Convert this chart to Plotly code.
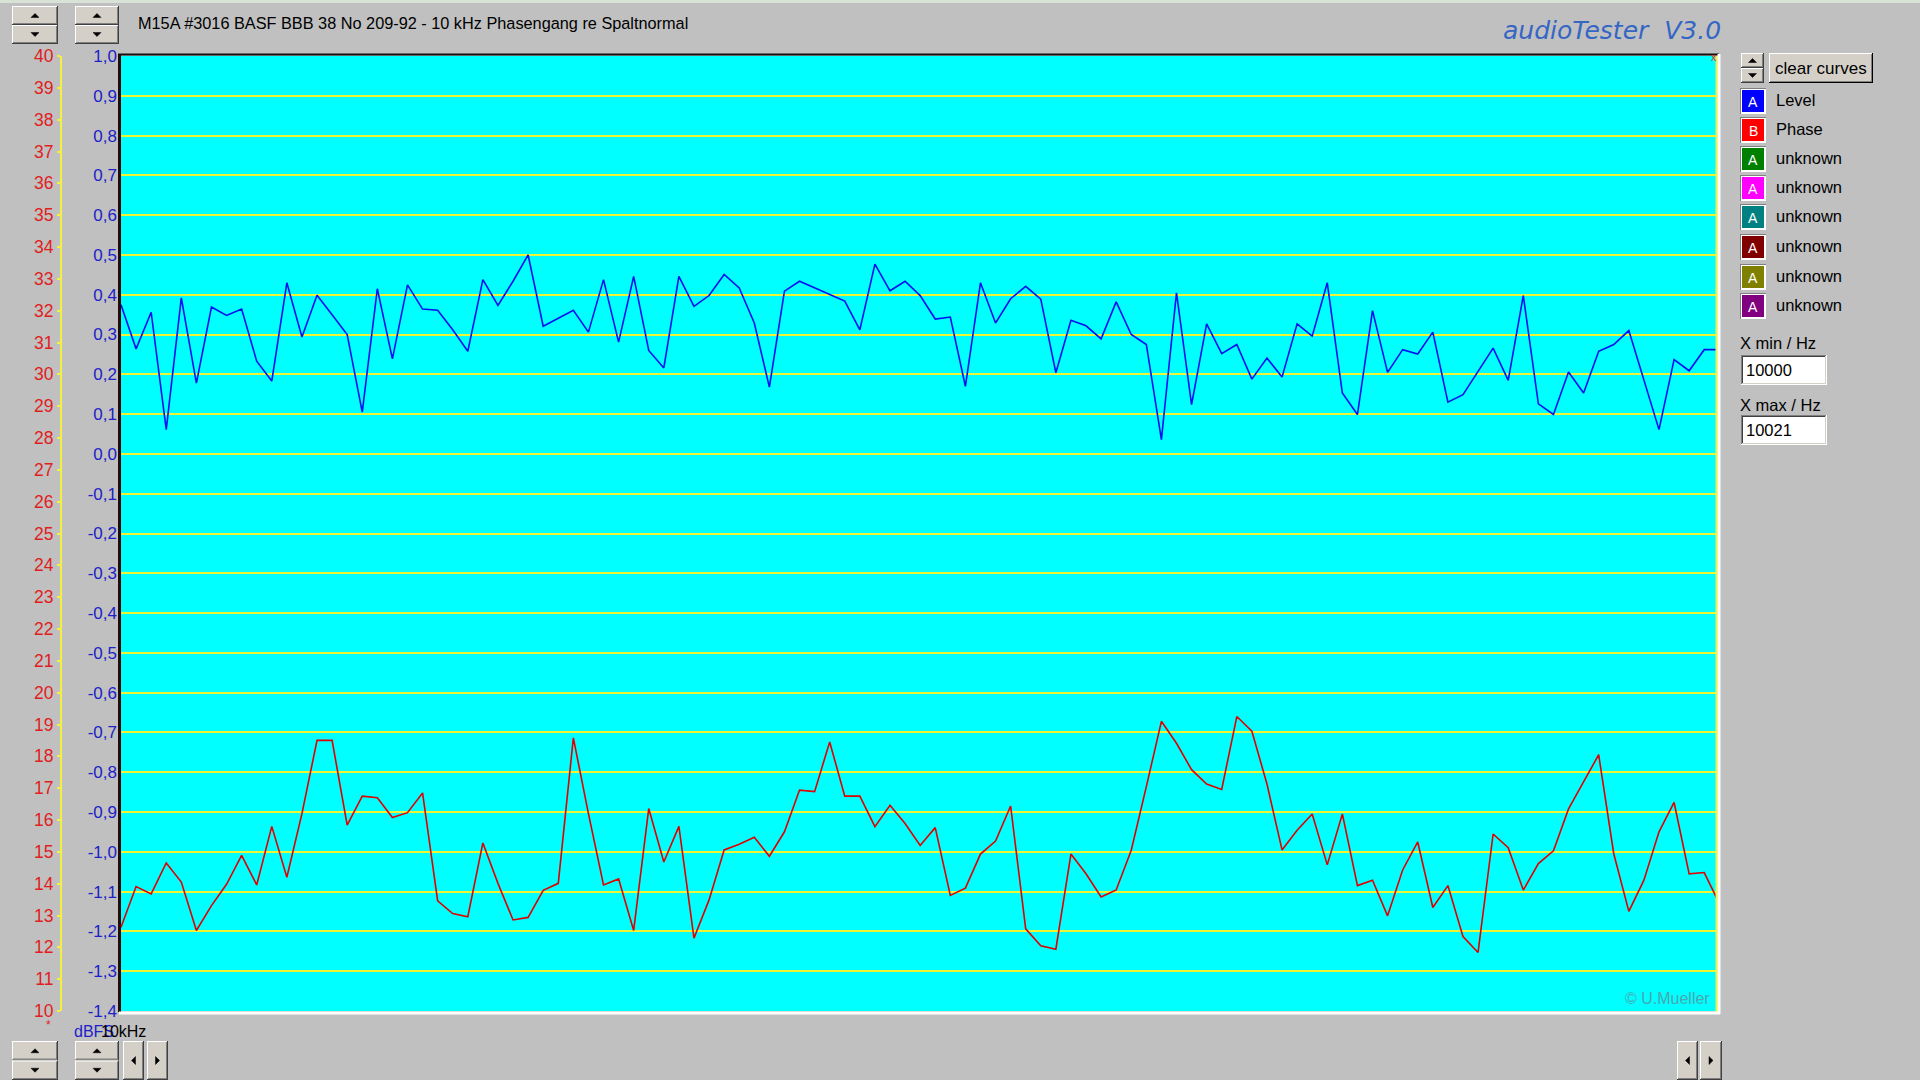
import plotly.graph_objects as go

W, H = 1920, 1080

# ---------------- data ----------------
freq_start_hz = 10000.0
freq_step_hz = 0.1984
x_min_hz = 10000
x_max_hz = 10021

level_dbfs = [
    0.375, 0.264, 0.356, 0.061, 0.392, 0.178, 0.369, 0.348, 0.364, 0.233,
    0.183, 0.430, 0.294, 0.399, 0.350, 0.300, 0.105, 0.415, 0.239, 0.425,
    0.364, 0.361, 0.312, 0.258, 0.438, 0.373, 0.434, 0.500, 0.321, 0.342,
    0.361, 0.306, 0.438, 0.281, 0.446, 0.260, 0.216, 0.446, 0.371, 0.398,
    0.451, 0.417, 0.329, 0.168, 0.409, 0.434, 0.417, 0.399, 0.384, 0.312,
    0.477, 0.410, 0.434, 0.398, 0.339, 0.344, 0.170, 0.430, 0.329, 0.390,
    0.421, 0.389, 0.204, 0.336, 0.322, 0.289, 0.382, 0.300, 0.275, 0.036,
    0.405, 0.124, 0.327, 0.252, 0.275, 0.188, 0.241, 0.193, 0.327, 0.296,
    0.430, 0.153, 0.099, 0.360, 0.205, 0.262, 0.251, 0.306, 0.130, 0.149,
    0.208, 0.266, 0.185, 0.398, 0.126, 0.099, 0.206, 0.153, 0.258, 0.275,
    0.310, 0.187, 0.061, 0.237, 0.209, 0.262, 0.262,
]

phase_deg = [
    12.63, 13.91, 13.68, 14.65, 14.05, 12.53, 13.31, 13.98, 14.89, 13.96,
    15.80, 14.20, 16.20, 18.50, 18.50, 15.84, 16.75, 16.70, 16.08, 16.23,
    16.85, 13.46, 13.06, 12.96, 15.28, 14.01, 12.86, 12.94, 13.79, 14.01,
    18.58, 16.20, 13.96, 14.15, 12.53, 16.36, 14.68, 15.80, 12.29, 13.49,
    15.06, 15.24, 15.46, 14.86, 15.63, 16.94, 16.89, 18.45, 16.75, 16.75,
    15.79, 16.46, 15.89, 15.20, 15.76, 13.63, 13.86, 14.93, 15.34, 16.44,
    12.58, 12.05, 11.94, 14.93, 14.31, 13.58, 13.80, 15.05, 17.05, 19.10,
    18.41, 17.58, 17.13, 16.96, 19.25, 18.79, 17.13, 15.06, 15.68, 16.19,
    14.59, 16.19, 13.94, 14.11, 12.99, 14.43, 15.31, 13.25, 13.94, 12.34,
    11.84, 15.56, 15.13, 13.80, 14.63, 15.03, 16.35, 17.18, 18.05, 14.94,
    13.13, 14.11, 15.63, 16.55, 14.31, 14.35, 13.38,
]

level_ticks = [1.0, 0.9, 0.8, 0.7, 0.6, 0.5, 0.4, 0.3, 0.2, 0.1, 0.0,
               -0.1, -0.2, -0.3, -0.4, -0.5, -0.6, -0.7, -0.8, -0.9,
               -1.0, -1.1, -1.2, -1.3, -1.4]
level_tick_text = [f"{v:.1f}".replace(".", ",") for v in level_ticks]
phase_ticks = list(range(10, 41))

legend_letters = ["A", "B", "A", "A", "A", "A", "A", "A"]
legend_labels = ["Level", "Phase", "unknown", "unknown", "unknown",
                 "unknown", "unknown", "unknown"]
legend_colors = ["#0000FF", "#FF0000", "#008000", "#FF00FF", "#008080",
                 "#800000", "#808000", "#800080"]

title_text = "M15A #3016 BASF BBB 38 No 209-92 - 10 kHz Phasengang re Spaltnormal"

freqs = [freq_start_hz + i * freq_step_hz for i in range(len(level_dbfs))]

# ---------------- helpers (pixel -> paper) ----------------
FACE = "#D4D0C8"
BG = "#C0C0C0"
FONT = "Liberation Sans, Arial, sans-serif"
shapes = []
annotations = []


def X(x):
    return x / W


def Y(y):
    return 1 - y / H


def rect(x0, y0, x1, y1, fill, line_color=None, lw=0):
    shapes.append(dict(type="rect", xref="paper", yref="paper",
                       x0=X(x0), x1=X(x1), y0=Y(y1), y1=Y(y0),
                       fillcolor=fill,
                       line=dict(width=lw, color=line_color or fill),
                       layer="above"))


def hline(x0, x1, y, color, w=1):
    shapes.append(dict(type="line", xref="paper", yref="paper",
                       x0=X(x0), x1=X(x1), y0=Y(y), y1=Y(y),
                       line=dict(color=color, width=w), layer="above"))


def vline(x, y0, y1, color, w=1):
    shapes.append(dict(type="line", xref="paper", yref="paper",
                       x0=X(x), x1=X(x), y0=Y(y0), y1=Y(y1),
                       line=dict(color=color, width=w), layer="above"))


def poly(pts, color):
    d = "M " + " L ".join(f"{X(px):.6f},{Y(py):.6f}" for px, py in pts) + " Z"
    shapes.append(dict(type="path", xref="paper", yref="paper", path=d,
                       fillcolor=color, line=dict(color=color, width=0.5),
                       layer="above"))


def raised(x0, y0, x1, y1):
    rect(x0, y0, x1, y1, FACE)
    hline(x0, x1, y0 + 0.5, "#FFFFFF")
    vline(x0 + 0.5, y0, y1, "#FFFFFF")
    hline(x0, x1, y1 - 0.5, "#404040")
    vline(x1 - 0.5, y0, y1, "#404040")
    hline(x0 + 1, x1 - 1, y1 - 1.5, "#808080")
    vline(x1 - 1.5, y0 + 1, y1 - 1, "#808080")


def sunken(x0, y0, x1, y1):
    rect(x0, y0, x1, y1, "#FFFFFF")
    hline(x0, x1, y0 + 0.5, "#808080")
    vline(x0 + 0.5, y0, y1, "#808080")
    hline(x0 + 1, x1 - 1, y0 + 1.5, "#404040")
    vline(x0 + 1.5, y0 + 1, y1 - 1, "#404040")
    hline(x0, x1, y1 - 0.5, "#FFFFFF")
    vline(x1 - 0.5, y0, y1, "#FFFFFF")
    hline(x0 + 1, x1 - 1, y1 - 1.5, FACE)
    vline(x1 - 1.5, y0 + 1, y1 - 1, FACE)


def spin(x0, y0, x1, y1):
    ym = (y0 + y1) / 2
    raised(x0, y0, x1, ym)
    raised(x0, ym, x1, y1)
    cx = (x0 + x1) / 2
    cu = (y0 + ym) / 2
    cd = (ym + y1) / 2
    poly([(cx - 4, cu + 2), (cx + 4, cu + 2), (cx, cu - 2)], "#000000")
    poly([(cx - 4, cd - 2), (cx + 4, cd - 2), (cx, cd + 2)], "#000000")


def arrow_btn(x0, y0, x1, y1, direction):
    raised(x0, y0, x1, y1)
    cx = (x0 + x1) / 2
    cy = (y0 + y1) / 2
    if direction == "left":
        poly([(cx + 2, cy - 4), (cx + 2, cy + 4), (cx - 2, cy)], "#000000")
    else:
        poly([(cx - 2, cy - 4), (cx - 2, cy + 4), (cx + 2, cy)], "#000000")


def text(x, y, s, size=16, color="#000000", xanchor="left", family=FONT):
    annotations.append(dict(xref="paper", yref="paper", x=X(x), y=Y(y),
                            text=s, showarrow=False, xanchor=xanchor,
                            yanchor="middle",
                            font=dict(family=family, size=size, color=color)))


# ---------------- figure ----------------
fig = go.Figure()
fig.add_trace(go.Scatter(x=freqs, y=level_dbfs, mode="lines", name="Level",
                         line=dict(color="#0010F0", width=1.6), yaxis="y"))
fig.add_trace(go.Scatter(x=freqs, y=phase_deg, mode="lines", name="Phase",
                         line=dict(color="#E00000", width=1.6), yaxis="y2"))

# window chrome
rect(0, 0, W, 3, "#D8E2D6")

# plot frame
hline(118, 1719, 54.5, "#101010", 2)
vline(119.5, 54, 1012, "#2A0808", 3)
vline(1716.5, 56, 1012, "#EEF535", 2)
vline(1719, 54, 1014, "#FFFFFF", 3)
hline(119, 1720, 1013, "#FFFFFF", 3)

# top-left spin buttons
spin(12, 6, 58, 44)
spin(75, 6, 119, 44)
# bottom spin + arrow buttons
spin(12, 1041, 58, 1080)
spin(75, 1041, 119, 1080)
arrow_btn(123, 1041, 144, 1080, "left")
arrow_btn(147, 1041, 168, 1080, "right")
arrow_btn(1677, 1041, 1698, 1080, "left")
arrow_btn(1700, 1041, 1722, 1080, "right")

# right panel
spin(1741, 53, 1764, 83)
raised(1769, 53, 1873, 83)
hline(1769, 1873, 82.5, "#000000")
vline(1872.5, 53, 83, "#000000")
text(1821, 68, "clear curves", size=17, xanchor="center")

rows = [101, 130, 159, 188, 217, 247, 277, 306]
for cy, letter, lab, col in zip(rows, legend_letters, legend_labels, legend_colors):
    rect(1740, cy - 13, 1766, cy + 13, "#808080")
    rect(1741, cy - 12, 1766, cy + 13, "#FFFFFF")
    rect(1742, cy - 11, 1764, cy + 11, col)
    text(1753, cy + 1, letter, size=14, color="#FFFFFF", xanchor="center")
    text(1774, cy - 1, lab, size=16.5)

text(1738, 343, "X min / Hz", size=16.5)
sunken(1741, 355, 1827, 385)
text(1744, 370, str(x_min_hz), size=16.5)
text(1738, 405, "X max / Hz", size=16.5)
sunken(1741, 415, 1827, 445)
text(1744, 430, str(x_max_hz), size=16.5)

# texts
text(136, 23, title_text, size=16.3)
text(1501, 31, "<i>audioTester  V3.0</i>", size=25, color="#3566C4",
     family="DejaVu Sans, sans-serif")
text(1712, 998, "© U.Mueller", size=16, color="#4AA8B0", xanchor="right")
text(1714, 57, "x", size=11, color="#FF3000", xanchor="center")
text(48, 1025, "*", size=12, color="#E02020", xanchor="center")
text(72, 1031, "dBFS", size=16, color="#2020C8")
text(99, 1031, "10kHz", size=16, color="#000000")

plot_x0, plot_x1 = 121 / W, 1717 / W
plot_y0, plot_y1 = 1 - 1011 / H, 1 - 56 / H

fig.update_layout(
    template="none",
    autosize=False,
    width=W, height=H,
    margin=dict(l=0, r=0, t=0, b=0, pad=0, autoexpand=False),
    paper_bgcolor=BG,
    plot_bgcolor="#00FFFF",
    showlegend=False,
    xaxis=dict(domain=[plot_x0, plot_x1], range=[x_min_hz, x_max_hz],
               showticklabels=False, showgrid=False, zeroline=False,
               showline=False, ticks="", fixedrange=True, automargin=False),
    yaxis=dict(domain=[plot_y0, plot_y1], range=[-1.4, 1.0],
               tickvals=level_ticks, ticktext=level_tick_text,
               tickfont=dict(family=FONT, size=17, color="#2020C8"),
               showgrid=True, gridcolor="#EEF535", gridwidth=2,
               zeroline=False, showline=False, ticks="",
               ticklabelstandoff=3, fixedrange=True, automargin=False),
    yaxis2=dict(overlaying="y", anchor="free", position=61 / W, side="left",
                range=[10, 40], tickvals=phase_ticks,
                tickfont=dict(family=FONT, size=17.5, color="#E02020"),
                showgrid=False, zeroline=False,
                showline=True, linecolor="#F4F040", linewidth=2,
                ticks="outside", ticklen=3, tickcolor="#F4F040", tickwidth=2,
                fixedrange=True, automargin=False),
    shapes=shapes,
    annotations=annotations,
)

post_js = (
    "var gd=document.getElementById('{plot_id}');"
    "gd.style.position='fixed';gd.style.top='0px';gd.style.left='0px';"
    "document.documentElement.style.margin='0px';"
    "document.documentElement.style.padding='0px';"
    "document.documentElement.style.overflow='hidden';"
    "document.body.style.margin='0px';document.body.style.padding='0px';"
    "document.body.style.overflow='hidden';"
    "document.body.style.background='#C0C0C0';"
)
fig.write_html("out.html", config={"displayModeBar": False, "responsive": False},
               post_script=post_js)
